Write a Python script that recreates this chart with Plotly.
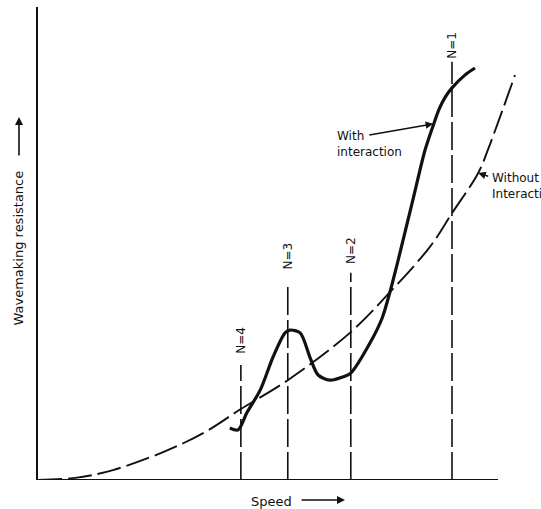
import plotly.graph_objects as go

# --- data (speed: 0-100 along drawn axis, resistance: 0-100) ---
speed_without = [0.0, 8.5, 16.3, 27.2, 35.9, 44.1, 54.3, 67.8, 76.5, 85.2, 90.0, 95.7, 97.8, 103.7]
res_without = [0.0, 0.5, 2.1, 5.9, 9.9, 15.0, 21.1, 31.1, 39.7, 49.3, 56.4, 64.9, 69.8, 85.6]

speed_with = [41.7, 43.5, 45.4, 48.3, 51.1, 53.7, 54.8, 57.0, 59.1, 60.9, 63.5, 66.3, 68.0,
              72.2, 74.8, 76.5, 78.3, 81.5, 84.1, 85.9, 87.2, 88.5, 90.0, 92.8, 95.0]
res_with = [11.0, 10.6, 14.2, 19.0, 26.0, 31.1, 31.7, 31.1, 26.0, 22.2, 21.1, 21.8, 22.6,
            29.0, 34.2, 39.7, 46.5, 59.2, 69.6, 74.9, 78.4, 80.9, 82.9, 85.6, 87.1]

n_labels = ["N=4", "N=3", "N=2", "N=1"]
n_speed = [44.1, 54.3, 68.0, 90.0]
n_top = [24.3, 41.2, 43.8, 88.4]
n_label_y = [29.6, 47.4, 48.6, 92.0]

INK = "#111111"
FONT = "DejaVu Sans"

fig = go.Figure()

# vertical N lines
for xv, top in zip(n_speed, n_top):
    fig.add_trace(go.Scatter(x=[xv, xv], y=[0, top], mode="lines",
                             line=dict(color=INK, width=1.6, dash="28px,5px"),
                             showlegend=False, hoverinfo="skip"))

# without interaction (dashed)
fig.add_trace(go.Scatter(x=speed_without, y=res_without, mode="lines",
                         line=dict(color=INK, width=1.9, dash="24px,6px", shape="spline", smoothing=1.0),
                         showlegend=False, hoverinfo="skip"))

# with interaction (solid thick)
fig.add_trace(go.Scatter(x=speed_with, y=res_with, mode="lines",
                         line=dict(color=INK, width=3.2, shape="spline", smoothing=0.8),
                         showlegend=False, hoverinfo="skip"))

# x axis line
fig.add_shape(type="line", x0=0, x1=100, y0=0, y1=0, xref="x", yref="y",
              line=dict(color=INK, width=2.2))

annotations = []
for lab, xv, ly in zip(n_labels, n_speed, n_label_y):
    annotations.append(dict(x=xv, y=ly, xref="x", yref="y", text=lab, showarrow=False,
                            textangle=-90, font=dict(family=FONT, size=12, color=INK)))

# With interaction label and arrow
annotations.append(dict(x=64.6, y=71.1, xref="x", yref="y", text="With<br>interaction",
                        showarrow=False, xanchor="left", align="left",
                        font=dict(family=FONT, size=12, color=INK)))
annotations.append(dict(x=85.9, y=75.3, xref="x", yref="y", ax=71.7, ay=72.9,
                        axref="x", ayref="y", text="", showarrow=True,
                        arrowhead=2, arrowsize=1, arrowwidth=1.5, arrowcolor=INK))

# Without interaction label and arrow
annotations.append(dict(x=98.3, y=62.2, xref="x", yref="y", text="Without<br>Interaction",
                        showarrow=False, xanchor="left", align="left",
                        font=dict(family=FONT, size=12, color=INK)))
annotations.append(dict(x=95.7, y=64.9, xref="x", yref="y", ax=98.2, ay=64.1,
                        axref="x", ayref="y", text="", showarrow=True,
                        arrowhead=2, arrowsize=1, arrowwidth=1.5, arrowcolor=INK))

# axis titles (paper coordinates, outside the plotting area)
annotations.append(dict(x=0.4642, y=-0.0444, xref="paper", yref="paper", text="Speed",
                        xanchor="center", yanchor="middle",
                        showarrow=False, font=dict(family=FONT, size=13, color=INK)))
annotations.append(dict(x=0.6103, y=-0.0423, xref="paper", yref="paper", ax=-45, ay=0,
                        text="", showarrow=True,
                        arrowhead=2, arrowsize=1, arrowwidth=1.6, arrowcolor=INK))
annotations.append(dict(x=-0.0378, y=0.4915, xref="paper", yref="paper",
                        text="Wavemaking resistance", showarrow=False, textangle=-90,
                        xanchor="center", yanchor="middle",
                        font=dict(family=FONT, size=13, color=INK)))
annotations.append(dict(x=-0.0378, y=0.7674, xref="paper", yref="paper", ax=0, ay=40,
                        text="", showarrow=True,
                        arrowhead=2, arrowsize=1, arrowwidth=1.6, arrowcolor=INK))

fig.update_layout(
    width=541, height=509,
    margin=dict(l=38, r=0, t=7, b=29),
    paper_bgcolor="white", plot_bgcolor="white",
    annotations=annotations,
    showlegend=False,
)
fig.update_xaxes(range=[0, 109.35], showgrid=False, zeroline=False, showticklabels=False,
                 ticks="", showline=False, fixedrange=True)
fig.update_yaxes(range=[0, 100], showgrid=False, zeroline=False, showticklabels=False,
                 ticks="", showline=True, linecolor=INK, linewidth=2, fixedrange=True)

fig.write_html(
    "out.html",
    config={"displayModeBar": False, "staticPlot": True},
    post_script="document.body.style.margin='0';document.documentElement.style.overflow='hidden';",
)
